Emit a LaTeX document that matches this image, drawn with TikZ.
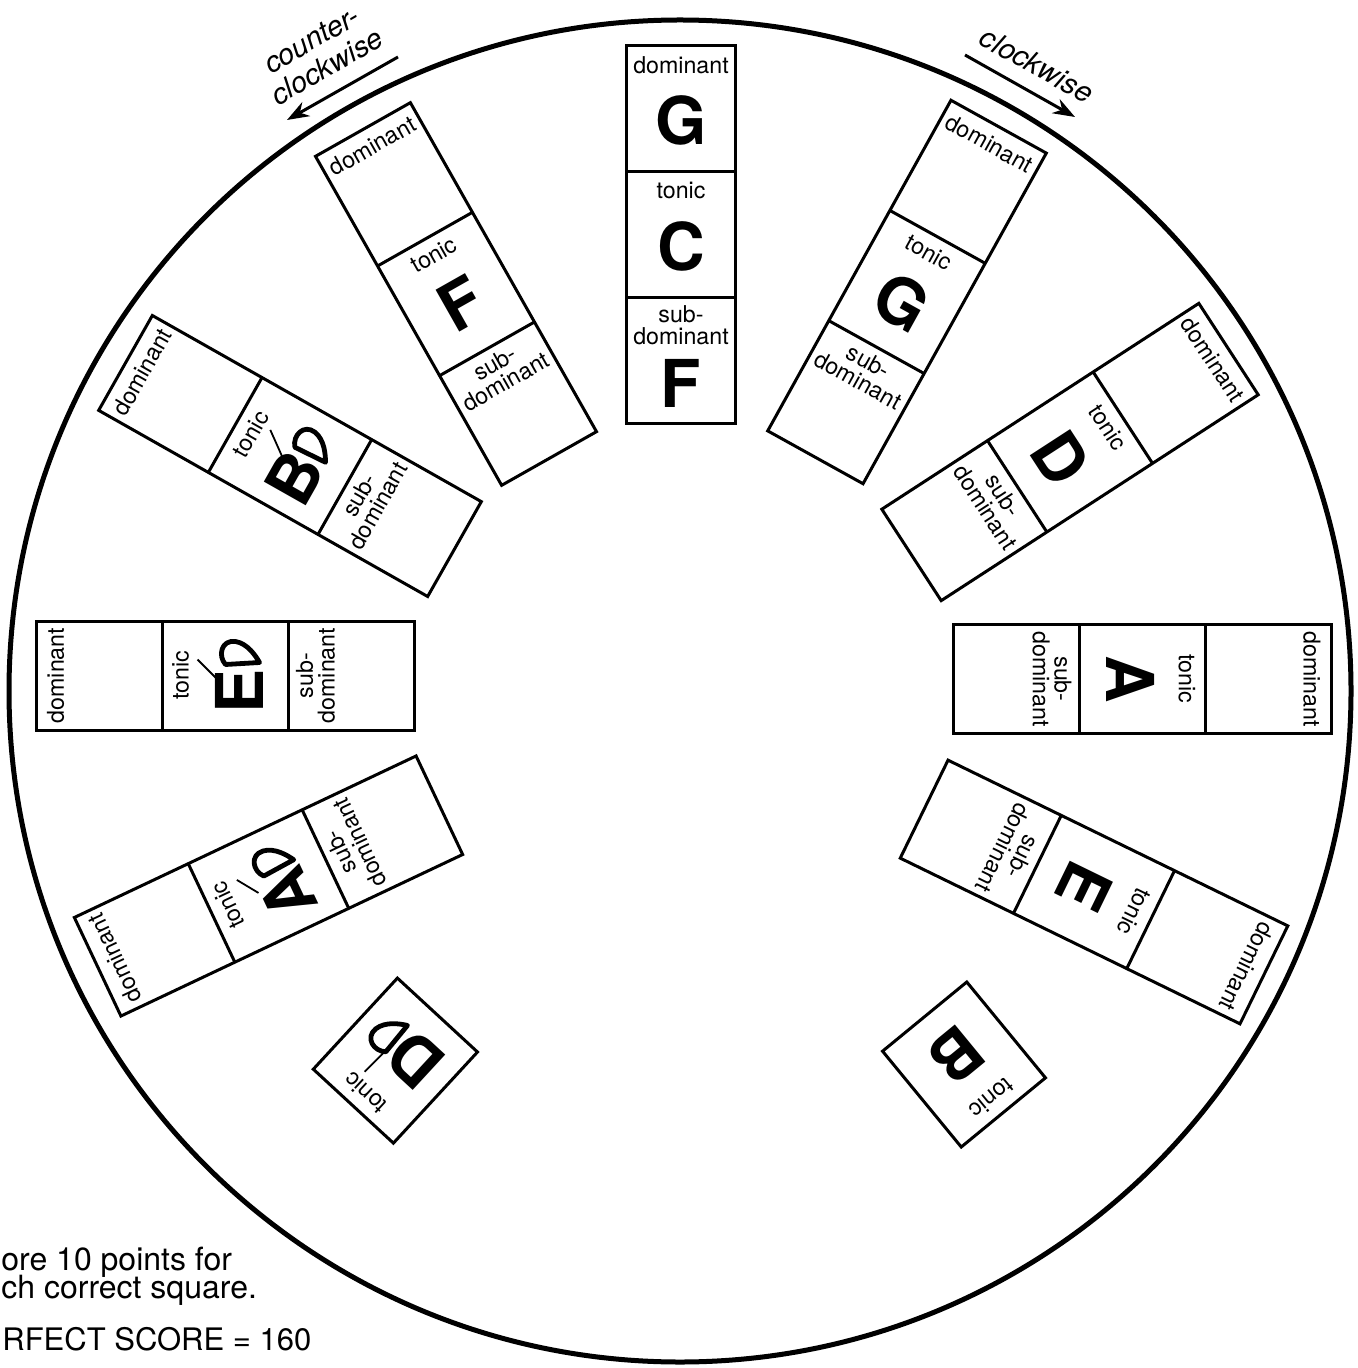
\documentclass[tikz,border=0pt]{standalone}
\usepackage{fontspec}
\setmainfont{TeX Gyre Heros}
\usetikzlibrary{arrows.meta}
\tikzset{
  cellbox/.style={draw=black, line width=1.5pt, fill=white},
  cellline/.style={draw=black, line width=1.5pt},
  lab/.style={inner sep=0pt, font=\fontsize{11.6}{10.8}\selectfont, align=center},
  big/.style={inner sep=0pt, font=\fontsize{33}{33}\selectfont\bfseries},
  dirtxt/.style={inner sep=0pt, font=\fontsize{14.5}{15.5}\selectfont\itshape, align=center},
  score/.style={inner sep=0pt, font=\fontsize{16}{16}\selectfont},
  arr/.style={line width=1.5pt, -{Stealth[length=11pt,width=8pt]}},
  flatstem/.style={line width=0.9pt},
  flatbowl/.style={line width=2.4pt, fill=white, line join=round},
}
\newcommand{\stripframe}[1]{%
  \draw[cellbox] (-54.5,-189) rectangle (54.5,189);
  \draw[cellline] (-54.5,63) -- (54.5,63);
  \draw[cellline] (-54.5,-63) -- (54.5,-63);
  \node[lab] (#1dom) at (0,170) {dominant};
  \node[lab] (#1ton) at (0,45) {tonic};
  \node[lab] (#1sub) at (0,-90) {sub-\\dominant};
}
% flat sign drawn relative to the letter centre; #1,#2 -- #3,#4: stem
\newcommand{\flatmark}[4]{%
  \draw[flatstem] (#1,#2) -- (#3,#4);
  \draw[flatbowl] (27,14) .. controls (36,22) and (52,18) .. (50,4)
     .. controls (48,-8) and (36,-16) .. (29,-20) -- cycle;
}
\begin{document}
\begin{tikzpicture}[x=0.5pt,y=0.5pt]
\useasboundingbox (0,0) rectangle (1357,-1368);
\draw[line width=2.5pt] (680,-691) circle (671);

% C strip (top)
\begin{scope}[shift={(681,-235)}, rotate=0, transform shape]
  \stripframe{C}
  \node[big] (Cdl) at (0,115) {G};
  \node[big] (Ctl) at (0,-11) {C};
  \node[big] (Csl) at (0,-148) {F};
\end{scope}
% G strip
\begin{scope}[shift={(907,-292)}, rotate=-29, transform shape]
  \stripframe{G}
  \node[big] (Gtl) at (0,-11) {G};
\end{scope}
% D strip
\begin{scope}[shift={(1070,-452)}, rotate=-57, transform shape]
  \stripframe{D}
  \node[big] (Dtl) at (0,-11) {D};
\end{scope}
% A strip
\begin{scope}[shift={(1142,-679)}, rotate=-90, transform shape]
  \stripframe{A}
  \node[big] (Atl) at (0,-11) {A};
\end{scope}
% E strip
\begin{scope}[shift={(1094,-892)}, rotate=-116, transform shape]
  \stripframe{E}
  \node[big] (Etl) at (0,-11) {E};
\end{scope}
% B square
\begin{scope}[shift={(964,-1064.5)}, rotate=-140.6, transform shape]
  \draw[cellbox] (-54.5,-62) rectangle (54.5,62);
  \node[lab] (Bton) at (0,44) {tonic};
  \node[big] (Btl) at (0,-12) {B};
\end{scope}
% F strip
\begin{scope}[shift={(456,-294)}, rotate=29.5, transform shape]
  \stripframe{F}
  \node[big] (Ftl) at (0,-11) {F};
\end{scope}
% Bb strip
\begin{scope}[shift={(290,-456)}, rotate=60.5, transform shape]
  \stripframe{Bb}
  \node[big] (Bbtl) at (-17,-14) {B};
  \begin{scope}[shift={(-17,-14)}]\flatmark{13}{21}{30}{44}\end{scope}
\end{scope}
% Eb strip
\begin{scope}[shift={(225.5,-675.5)}, rotate=90, transform shape]
  \stripframe{Eb}
  \node[big] (Ebtl) at (-16,-14) {E};
  \begin{scope}[shift={(-16,-14)}]\flatmark{12}{22}{32}{42}\end{scope}
\end{scope}
% Ab strip
\begin{scope}[shift={(268.5,-886)}, rotate=115.3, transform shape]
  \stripframe{Ab}
  \node[big] (Abtl) at (-16,-14) {A};
  \begin{scope}[shift={(-16,-14)}]\flatmark{14}{26}{35}{40}\end{scope}
\end{scope}
% Db square
\begin{scope}[shift={(395.4,-1060.6)}, rotate=137.3, transform shape]
  \draw[cellbox] (-54.5,-62) rectangle (54.5,62);
  \node[lab] (Dbton) at (0,44) {tonic};
  \node[big] (Dbtl) at (-14,-14) {D};
  \begin{scope}[shift={(-14,-14)}]\flatmark{28}{14}{29}{43}\end{scope}
\end{scope}

% direction arrows
\coordinate (ccwS) at (398,-57);
\coordinate (ccwE) at (287,-120);
\draw[arr] (ccwS) -- (ccwE);
\node[dirtxt, rotate=30] (ccwtxt) at (319.5,-53.5) {counter-\\clockwise};
\coordinate (cwS) at (965,-55);
\coordinate (cwE) at (1075,-117);
\draw[arr] (cwS) -- (cwE);
\node[dirtxt, rotate=-29] (cwtxt) at (1037,-65) {clockwise};

% score text
\node[score, anchor=base west] (s1) at (1,-1270) {ore 10 points for};
\node[score, anchor=base west] (s2) at (1,-1298) {ch correct square.};
\node[score, anchor=base west, font=\fontsize{15.5}{15.5}\selectfont] (s3) at (2,-1350) {RFECT SCORE = 160};
\end{tikzpicture}
\end{document}
